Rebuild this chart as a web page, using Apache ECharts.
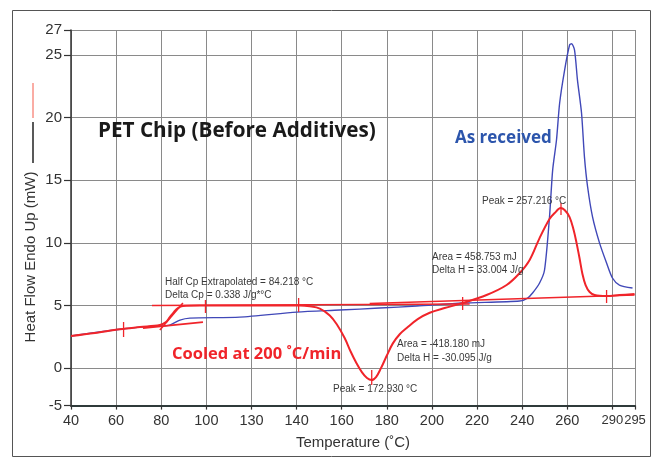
<!DOCTYPE html>
<html>
<head>
<meta charset="utf-8">
<script src="https://cdn.jsdelivr.net/npm/echarts@6/dist/echarts.min.js"></script>
<style>
html,body{margin:0;padding:0;background:#fff;}
#chart{width:657px;height:458px;}
</style>
</head>
<body>
<div id="chart"></div>
<script>
// ---- data (Temperature °C, Heat Flow mW) ----
var xTicks = [40, 60, 80, 100, 120, 140, 160, 180, 200, 220, 240, 260, 280, 290];
var xTickLabels = ['40', '60', '80', '100', '130', '140', '160', '180', '200', '220', '240', '260', '290', '295'];
var yTicks = [-3, 0, 5, 10, 15, 20, 25, 27];
var yTickLabels = ['-5', '0', '5', '10', '15', '20', '25', '27'];

var blueCurve = [
  [40, 2.56], [61.7, 3.1], [70.6, 3.27], [79.4, 3.35], [83.8, 3.43], [88.3, 3.83], [92.7, 3.99],
  [114.8, 4.07], [140.1, 4.47], [159.1, 4.63], [176.8, 4.79], [193.2, 4.95], [213.6, 5.19],
  [238.9, 5.35], [242.4, 5.59], [244.6, 5.99], [247.7, 6.79], [249.9, 7.83], [252.1, 12.06],
  [253.5, 15.81], [255.2, 18.21], [256.6, 21.17], [258.8, 23.8], [261, 25.8], [261.9, 25.9],
  [263.2, 25.4], [264.5, 23.0], [266.3, 20.37], [267.6, 16.85], [269, 14.46], [271.2, 12.06],
  [274.3, 9.98], [277.4, 8.39], [280, 7.19], [283.1, 6.63], [288.9, 6.39]
];

var redCurve = [
  [40, 2.56], [50.6, 2.8], [61.7, 3.1], [70.6, 3.27], [79.4, 3.43], [82.1, 3.67], [83.8, 4.07],
  [85.6, 4.47], [87.4, 4.79], [89.6, 4.95], [97.1, 4.99], [119.3, 4.99], [141.4, 4.99],
  [145.8, 4.93], [150.3, 4.75], [154.7, 4.2], [157.8, 3.5], [161.3, 2.4], [164, 1.3],
  [166.5, 0.4], [169, -0.35], [171.2, -0.8], [173.3, -0.96], [175.3, -0.7], [177.3, -0.05],
  [180, 1.0], [182.6, 1.95], [185.7, 2.7], [188.8, 3.2], [193.7, 3.91], [199, 4.42],
  [205.6, 4.79], [213.6, 5.19], [224.2, 5.83], [233.1, 6.63], [238.9, 7.59], [243.3, 8.63],
  [247.7, 10.38], [252.1, 11.9], [254.4, 12.38], [257, 12.78], [258.8, 12.62], [261, 12.06],
  [262.8, 11.02], [264.1, 9.98], [265.4, 8.79], [266.7, 7.51], [268.1, 6.63], [269.9, 6.07],
  [272.1, 5.83], [277.4, 5.75], [283.1, 5.83], [289.8, 5.91]
];

// analysis construction lines (red)
var tgLowerTangent = [[71.9, 3.19], [98.5, 3.67]];
var tgSlantTangent = [[79.4, 3.04], [89.6, 5.19]];
var crystBaseline = [[75.9, 4.99], [216.7, 5.11]];
var meltBaseline = [[172.4, 5.15], [289.8, 5.83]];
var markerTicks = [
  [[63.3, 2.48], [63.3, 3.67]],
  [[99.6, 4.39], [99.6, 5.43]],
  [[140.9, 4.47], [140.9, 5.59]],
  [[213.6, 4.63], [213.6, 5.67]],
  [[277.4, 5.19], [277.4, 6.23]],
  [[173.3, -1.36], [173.3, -0.16]],
  [[257.2, 12.22], [257.2, 13.18]]
];

var RED = '#f0242a';
var BLUE = '#4048b8';

var chart = echarts.init(document.getElementById('chart'));

var xLabelMap = {}, yLabelMap = {};
xTicks.forEach(function (t, i) { xLabelMap[Math.round(t)] = xTickLabels[i]; });
yTicks.forEach(function (t, i) { yLabelMap[Math.round(t)] = yTickLabels[i]; });
function mapper(m, tightFrom) {
  return function (v) {
    var k = Math.round(Number(v));
    if (!(k in m)) return '';
    if (tightFrom != null && k >= tightFrom) return '{t|' + m[k] + '}';
    return m[k];
  };
}

var series = [
  {
    type: 'line', data: blueCurve, showSymbol: false, symbol: 'none', smooth: 0.25,
    lineStyle: { color: BLUE, width: 1.4 }, z: 3, silent: true
  },
  {
    type: 'line', data: redCurve, showSymbol: false, symbol: 'none', smooth: 0.35,
    lineStyle: { color: RED, width: 2 }, z: 5, silent: true
  }
];
[tgLowerTangent, tgSlantTangent, crystBaseline, meltBaseline].forEach(function (seg) {
  series.push({
    type: 'line', data: seg, showSymbol: false, symbol: 'none',
    lineStyle: { color: RED, width: 1.6 }, z: 4, silent: true
  });
});
markerTicks.forEach(function (seg) {
  series.push({
    type: 'line', data: seg, showSymbol: false, symbol: 'none',
    lineStyle: { color: RED, width: 1.3 }, z: 6, silent: true
  });
});

var smallFont = '10px "Liberation Sans", Arial, sans-serif';
var SMALL = '#3a3a3a';
function smallText(x, y, t) {
  return { type: 'text', left: x, top: y, z: 100,
    style: { text: t, font: smallFont, fill: SMALL } };
}

var option = {
  animation: false,
  backgroundColor: '#ffffff',
  grid: { left: 71, right: 22, top: 30, bottom: 52.4, containLabel: false, show: false },
  xAxis: {
    type: 'value', min: 40, max: 290,
    axisLine: { show: true, onZero: false, lineStyle: { color: '#2f3a3a', width: 2 } },
    axisTick: { show: true, length: 4, customValues: xTicks, lineStyle: { color: '#333', width: 1.2 } },
    axisLabel: {
      customValues: xTicks, showMaxLabel: true, showMinLabel: true, hideOverlap: false,
      formatter: mapper(xLabelMap, 280),
      color: '#333', fontSize: 14.5, fontFamily: '"Liberation Sans", Arial, sans-serif', margin: 8,
      rich: { t: { fontSize: 13, color: '#333', fontFamily: '"Liberation Sans", Arial, sans-serif' } }
    },
    splitLine: { show: true, lineStyle: { color: '#8a8a8a', width: 1 } },
    name: 'Temperature (˚C)', nameLocation: 'middle', nameGap: 30,
    nameTextStyle: { color: '#333', fontSize: 15, fontFamily: '"Liberation Sans", Arial, sans-serif' }
  },
  yAxis: {
    type: 'value', min: -3, max: 27,
    axisLine: { show: true, onZero: false, lineStyle: { color: '#333', width: 1.5 } },
    axisTick: { show: true, length: 7, customValues: yTicks, lineStyle: { color: '#333', width: 1.2 } },
    axisLabel: {
      customValues: yTicks, showMaxLabel: true, showMinLabel: true, hideOverlap: false,
      formatter: mapper(yLabelMap, null),
      color: '#333', fontSize: 15, fontFamily: '"Liberation Sans", Arial, sans-serif', margin: 9
    },
    splitLine: { show: true, lineStyle: { color: '#8a8a8a', width: 1 } }
  },
  series: series,
  graphic: [
    { type: 'rect', shape: { x: 12.5, y: 10.5, width: 638, height: 446 }, z: -10,
      style: { fill: 'none', stroke: '#555', lineWidth: 1 } },
    { type: 'text', x: 31, y: 257, rotation: Math.PI / 2, z: 100,
      style: { text: 'Heat Flow Endo Up (mW)', font: '15px "Liberation Sans", Arial, sans-serif',
        fill: '#333', textAlign: 'center', textVerticalAlign: 'middle' } },
    { type: 'line', shape: { x1: 33, y1: 122, x2: 33, y2: 163 }, z: 100,
      style: { stroke: '#222', lineWidth: 1.5 } },
    { type: 'line', shape: { x1: 33, y1: 83, x2: 33, y2: 118 }, z: 100,
      style: { stroke: '#f55a4a', lineWidth: 1 } },
    { type: 'text', x: 98, y: 131, z: 100,
      style: { text: 'PET Chip (Before Additives)', font: 'bold 20.7px "Open Sans", sans-serif',
        fill: '#1a1a1a', textAlign: 'left', textVerticalAlign: 'middle' } },
    { type: 'text', x: 455, y: 138, z: 100,
      style: { text: 'As received', font: 'bold 17px "Open Sans", sans-serif',
        fill: '#2c55ac', textAlign: 'left', textVerticalAlign: 'middle' } },
    { type: 'text', x: 172, y: 354, z: 100,
      style: { text: 'Cooled at 200 ˚C/min', font: 'bold 16.5px "Open Sans", sans-serif',
        fill: RED, textAlign: 'left', textVerticalAlign: 'middle' } },
    smallText(165, 277, 'Half Cp Extrapolated = 84.218 °C'),
    smallText(165, 290, 'Delta Cp = 0.338 J/g*°C'),
    smallText(482, 196, 'Peak = 257.216 °C'),
    smallText(432, 252, 'Area = 458.753 mJ'),
    smallText(432, 265, 'Delta H = 33.004 J/g'),
    smallText(397, 339, 'Area = -418.180 mJ'),
    smallText(397, 353, 'Delta H = -30.095 J/g'),
    smallText(333, 384, 'Peak = 172.930 °C')
  ]
};
chart.setOption(option);
</script>
</body>
</html>
